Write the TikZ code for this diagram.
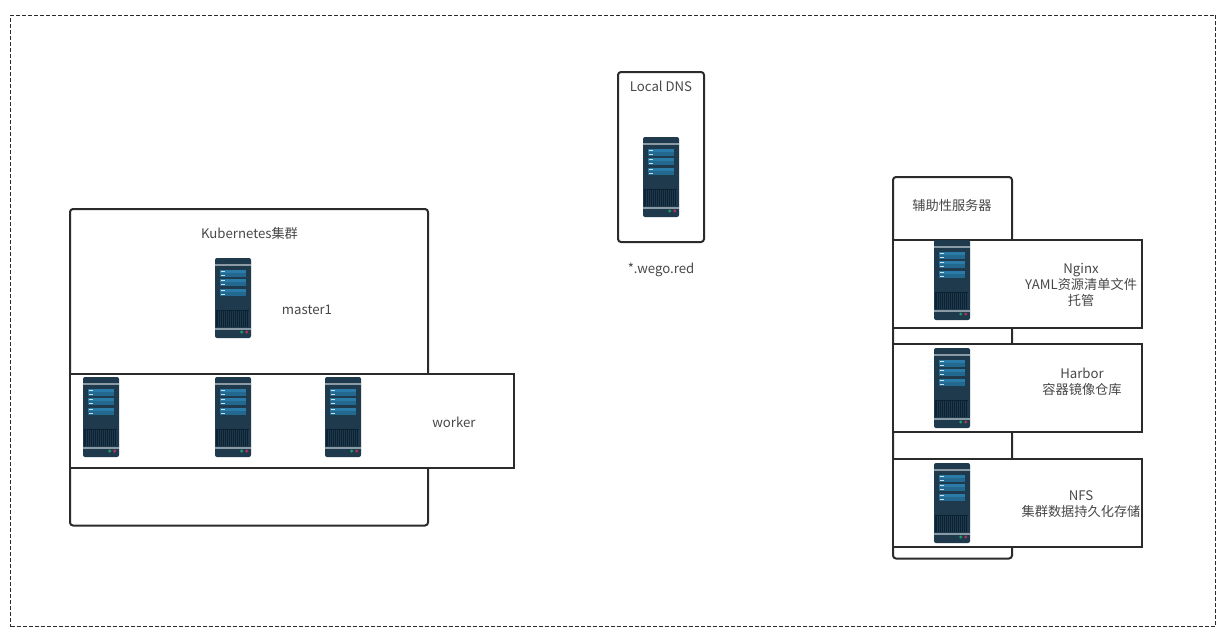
\documentclass[tikz,border=0pt]{standalone}
\usepackage{fontspec}
\setmainfont{Noto Sans CJK SC}
\definecolor{ink}{HTML}{2B2B2B}
\definecolor{txt}{HTML}{484848}
\definecolor{srvbody}{HTML}{1E3A4C}
\definecolor{srvbar}{HTML}{8A9BA5}
\definecolor{srvblue}{HTML}{22688F}
\definecolor{srvblueb}{HTML}{2B7BA8}
\definecolor{srvvent}{HTML}{0C2131}
\definecolor{srvlight}{HTML}{C9E3F2}
\definecolor{srvgreen}{HTML}{1F9A6B}
\definecolor{srvred}{HTML}{B0325A}
\tikzset{
  x=1pt,y=-1pt,
  panel/.style={draw=ink,line width=2pt,fill=white,rounded corners=3pt,anchor=north west,inner sep=0pt,outer sep=0pt},
  band/.style={draw=ink,line width=2pt,fill=white,anchor=north west,inner sep=0pt,outer sep=0pt},
  frame/.style={draw=ink,line width=1pt,dash pattern=on 4pt off 2pt,anchor=north west,inner sep=0pt,outer sep=0pt},
  label/.style={text=txt,font=\fontsize{13.2}{16}\selectfont,align=center,inner sep=0pt},
  server/.pic={
    \fill[srvbody,rounded corners=2pt] (0,0) rectangle (36,80);
    \fill[srvbar] (0,6) rectangle (36,8);
    \fill[srvbar] (0,69.5) rectangle (36,71.5);
    \foreach \t in {11.5,20.5,31}{
      \fill[srvblueb] (5,\t) rectangle (31,\t+3.4);
      \fill[srvblue] (5,\t+3.4) rectangle (31,\t+7.2);
      \fill[srvlight] (5.5,\t+1) rectangle (10,\t+2.2);
      \fill[srvlight] (5.5,\t+5) rectangle (10,\t+6.2);
    }
    \fill[srvvent] (1,51.5) rectangle (34,69);
    \foreach \v in {3,5,...,33}{
      \fill[srvbody] (\v,52.5) rectangle (\v+0.7,69);
    }
    \fill[srvgreen] (26.7,74) circle (1.7);
    \fill[srvred] (31.7,74) circle (1.7);
  }
}
\begin{document}
\begin{tikzpicture}
\useasboundingbox (0,0) rectangle (1230,638);
\fill[white] (0,0) rectangle (1230,638);
\node[frame,minimum width=1204.8pt,minimum height=611.5pt] (outer) at (10.7,15) {};
% Kubernetes cluster
\node[panel,minimum width=358pt,minimum height=316.5pt] (cluster) at (70,209) {};
\node[band,minimum width=444pt,minimum height=94pt] (workers) at (70,374) {};
\node[label] (clusterlabel) at (249.5,233) {Kubernetes集群};
\pic at (215,258) {server};
\node[label] (masterlabel) at (307,310) {master1};
\pic at (83,377) {server};
\pic at (215,377) {server};
\pic at (325,377) {server};
\node[label] (workerlabel) at (454,422) {worker};
% DNS
\node[panel,minimum width=86pt,minimum height=170pt] (dns) at (618,72) {};
\node[label] (dnslabel) at (661,86) {Local DNS};
\pic at (643,137) {server};
\node[label] (domain) at (661,270) {*.wego.red};
% Auxiliary
\node[panel,minimum width=119pt,minimum height=381.5pt] (aux) at (893,177) {};
\node[label] (auxlabel) at (952,205) {辅助性服务器};
\node[band,minimum width=249pt,minimum height=88pt] (nginx) at (893,240) {};
\pic at (934,240) {server};
\node[label] (nginxlabel) at (1081,285) {Nginx\\YAML资源清单文件\\托管};
\node[band,minimum width=249pt,minimum height=88pt] (harbor) at (893,344) {};
\pic at (934,348) {server};
\node[label] (harborlabel) at (1082,382) {Harbor\\容器镜像仓库};
\node[band,minimum width=249pt,minimum height=88pt] (nfs) at (893,459) {};
\pic at (934,463) {server};
\node[label] (nfslabel) at (1081,504) {NFS\\集群数据持久化存储};
\end{tikzpicture}
\end{document}
